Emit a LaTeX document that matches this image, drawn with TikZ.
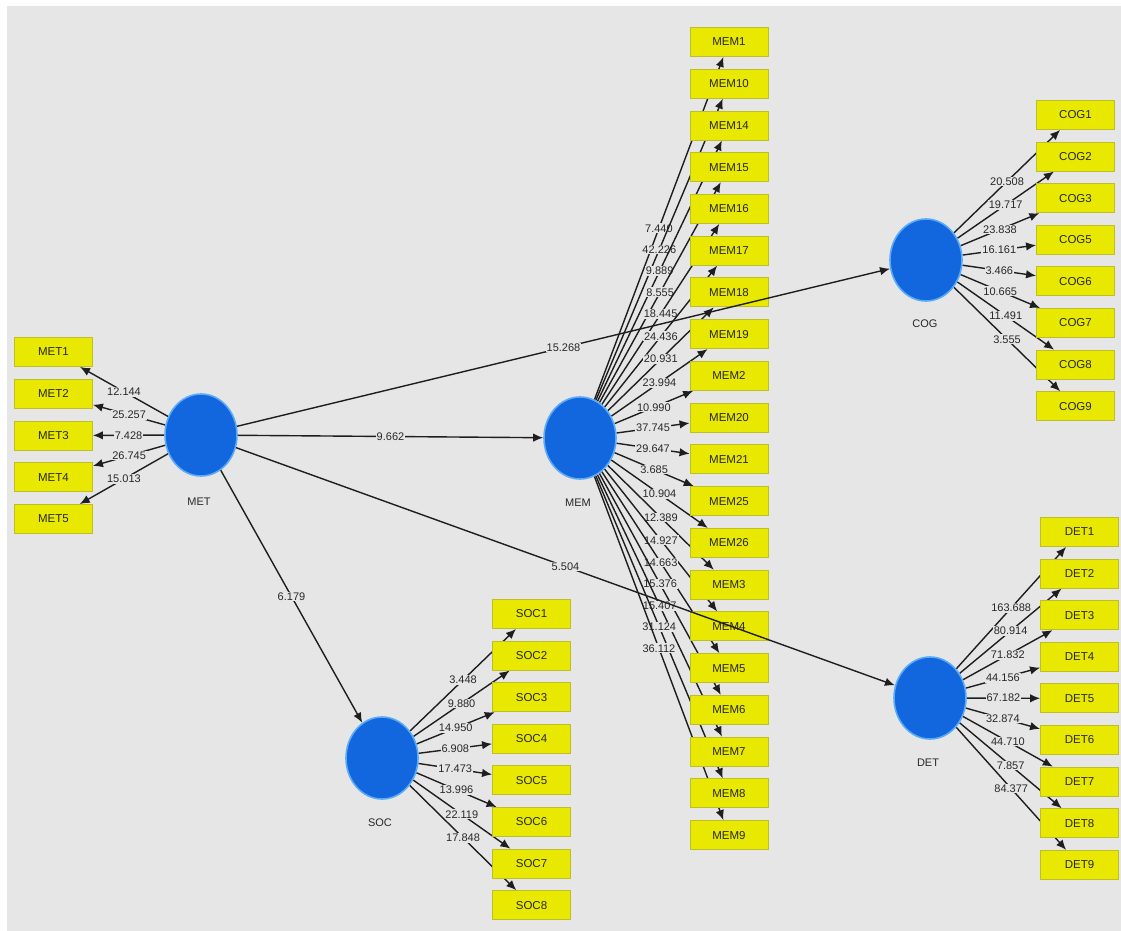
\documentclass[tikz,border=0pt]{standalone}
\usepackage{fontspec}
\setmainfont{Liberation Sans}
\usetikzlibrary{shapes.geometric,arrows.meta}
\definecolor{bgc}{RGB}{230,230,230}
\definecolor{yel}{RGB}{232,232,0}
\definecolor{yelb}{RGB}{190,190,40}
\definecolor{blu}{RGB}{18,102,222}
\definecolor{blur}{RGB}{90,170,245}
\definecolor{lnc}{RGB}{30,30,30}
\definecolor{txc}{RGB}{40,40,40}
\pgfdeclarelayer{bglayer}
\pgfdeclarelayer{linelayer}
\pgfsetlayers{bglayer,linelayer,main}
\tikzset{
  ind/.style={rectangle, fill=yel, draw=yelb, line width=0.9pt, minimum width=78pt,
    minimum height=29pt, inner sep=0pt, font=\fontsize{11.5}{13}\selectfont, text=txc},
  lat/.style={ellipse, fill=blu, draw=blur, line width=1.6pt, minimum width=72pt,
    minimum height=82pt, inner sep=0pt},
  latname/.style={font=\fontsize{11}{13}\selectfont, text=txc},
  lnk/.style={draw=lnc, line width=1.4pt, -{Latex[length=10pt,width=8.5pt]}},
  wt/.style={fill=bgc, inner sep=1pt, font=\fontsize{11}{13}\selectfont, text=txc, pos=0.5},
}
\begin{document}
\begin{tikzpicture}[x=1pt,y=-1pt]
\begin{pgfonlayer}{bglayer}
  \fill[white] (0,0) rectangle (1121,931);
  \fill[bgc] (7,6) rectangle (1121,931);
\end{pgfonlayer}
\useasboundingbox (0,0) rectangle (1121,931);

% latent variables
\node[lat] (MET) at (201,435) {};
\node[latname] (METl) at (199,502) {MET};
\node[lat] (MEM) at (580,438) {};
\node[latname] (MEMl) at (578,503) {MEM};
\node[lat] (COG) at (926,260) {};
\node[latname] (COGl) at (925,324) {COG};
\node[lat] (SOC) at (382,758) {};
\node[latname] (SOCl) at (380,823) {SOC};
\node[lat] (DET) at (930,698) {};
\node[latname] (DETl) at (928,763) {DET};

% MET indicators
\foreach \n/\w [count=\i from 0] in {1/12.144,2/25.257,3/7.428,4/26.745,5/15.013}{
  \node[ind] (MET\n) at (53.5,352+41.75*\i) {MET\n};
  \begin{pgfonlayer}{linelayer}
    \draw[lnk] (MET) -- node[wt]{\w} (MET\n);
  \end{pgfonlayer}
}

% MEM indicators
\foreach \n/\w [count=\i from 0] in {1/7.440,10/42.226,14/9.889,15/8.555,16/18.445,
  17/24.436,18/20.931,19/23.994,2/10.990,20/37.745,21/29.647,25/3.685,26/10.904,
  3/12.389,4/14.927,5/14.663,6/15.376,7/15.407,8/31.124,9/36.112}{
  \node[ind] (MEM\n) at (729,42+41.74*\i) {MEM\n};
  \begin{pgfonlayer}{linelayer}
    \draw[lnk] (MEM) -- node[wt]{\w} (MEM\n);
  \end{pgfonlayer}
}

% COG indicators
\foreach \n/\w [count=\i from 0] in {1/20.508,2/19.717,3/23.838,5/16.161,6/3.466,
  7/10.665,8/11.491,9/3.555}{
  \node[ind] (COG\n) at (1075.5,115+41.6*\i) {COG\n};
  \begin{pgfonlayer}{linelayer}
    \draw[lnk] (COG) -- node[wt]{\w} (COG\n);
  \end{pgfonlayer}
}

% SOC indicators
\foreach \n/\w [count=\i from 0] in {1/3.448,2/9.880,3/14.950,4/6.908,5/17.473,
  6/13.996,7/22.119,8/17.848}{
  \node[ind] (SOC\n) at (531.5,614+41.6*\i) {SOC\n};
  \begin{pgfonlayer}{linelayer}
    \draw[lnk] (SOC) -- node[wt]{\w} (SOC\n);
  \end{pgfonlayer}
}

% DET indicators
\foreach \n/\w [count=\i from 0] in {1/163.688,2/80.914,3/71.832,4/44.156,5/67.182,
  6/32.874,7/44.710,8/7.857,9/84.377}{
  \node[ind] (DET\n) at (1079.5,532+41.6*\i) {DET\n};
  \begin{pgfonlayer}{linelayer}
    \draw[lnk] (DET) -- node[wt]{\w} (DET\n);
  \end{pgfonlayer}
}

% structural paths
\draw[lnk] (MET) -- node[wt]{9.662} (MEM);
\draw[lnk] (MET) -- node[wt]{15.268} (COG);
\draw[lnk] (MET) -- node[wt]{5.504} (DET);
\draw[lnk] (MET) -- node[wt]{6.179} (SOC);
\end{tikzpicture}
\end{document}
